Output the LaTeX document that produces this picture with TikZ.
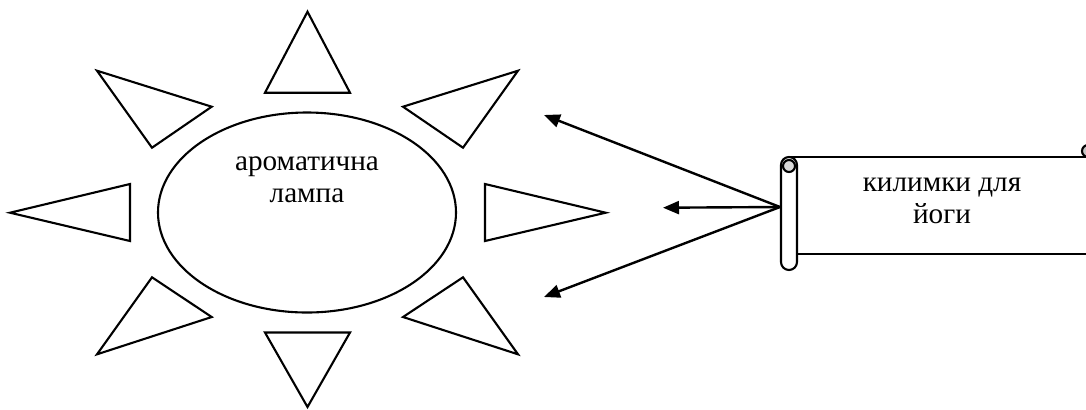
\documentclass[tikz,border=0pt]{standalone}
\usepackage{fontspec}
\setmainfont{Liberation Serif}
\usepackage{tikz}
\usetikzlibrary{arrows.meta, shapes.geometric}

\begin{document}
\begin{tikzpicture}[x=0.5pt, y=-0.5pt, line width=1.05pt,
	ray/.style={draw, line join=miter},
	pointer/.style={-{Triangle[length=8pt, width=6.5pt]}, line width=1.2pt},
	caption/.style={align=center, font=\fontsize{14.6}{15.8}\selectfont, inner sep=0pt}]
			\useasboundingbox (0,0) rectangle (1086,409);
			\clip (0,0) rectangle (1086,409);
			
			\node[draw, ellipse, minimum width=149pt, minimum height=100pt, inner sep=0pt] (lamp) at (307,212.5) {};
			\node[caption] (lamptext) at (307,180) {ароматична\\лампа};
			
			\foreach \ax/\ay/\bx/\by/\cx/\cy in {307.5/11.7/350/92.7/265/92.7, 265/332.5/350/332.5/307.5/407,
				10/212.7/130/184/130/241, 485/184/605.7/212.7/485/241,
				97/70.7/211.7/106.7/152/147.7, 518/70.7/403/106.7/463/147.7,
				152/277.3/211.7/317/97/354.3, 463/277.3/403/317/518/354.3}
			\draw[ray] (\ax,\ay) -- (\bx,\by) -- (\cx,\cy) -- cycle;
			
			\draw (789,157) -- (1086,157);
			\draw (797,254) -- (1086,254);
			\draw[fill=white] (797,165) arc[start angle=0, end angle=-180, radius=8] -- (781,262)
				arc[start angle=180, end angle=0, radius=8] -- cycle;
			\draw[fill=gray!30] (789,166) circle[radius=6];
			\draw[fill=gray!45] (1088,151) circle[radius=6];
			\node[caption] (mattext) at (942,201) {килимки для\\йоги};
			
			\coordinate (tail) at (780,207);
			\coordinate (tipup) at (544,115);
			\coordinate (tipmid) at (663,207.7);
			\coordinate (tipdown) at (544,297);
			\foreach \t in {tipup, tipmid, tipdown}
			\draw[pointer] (tail) -- (\t);
		\end{tikzpicture}
\end{document}
